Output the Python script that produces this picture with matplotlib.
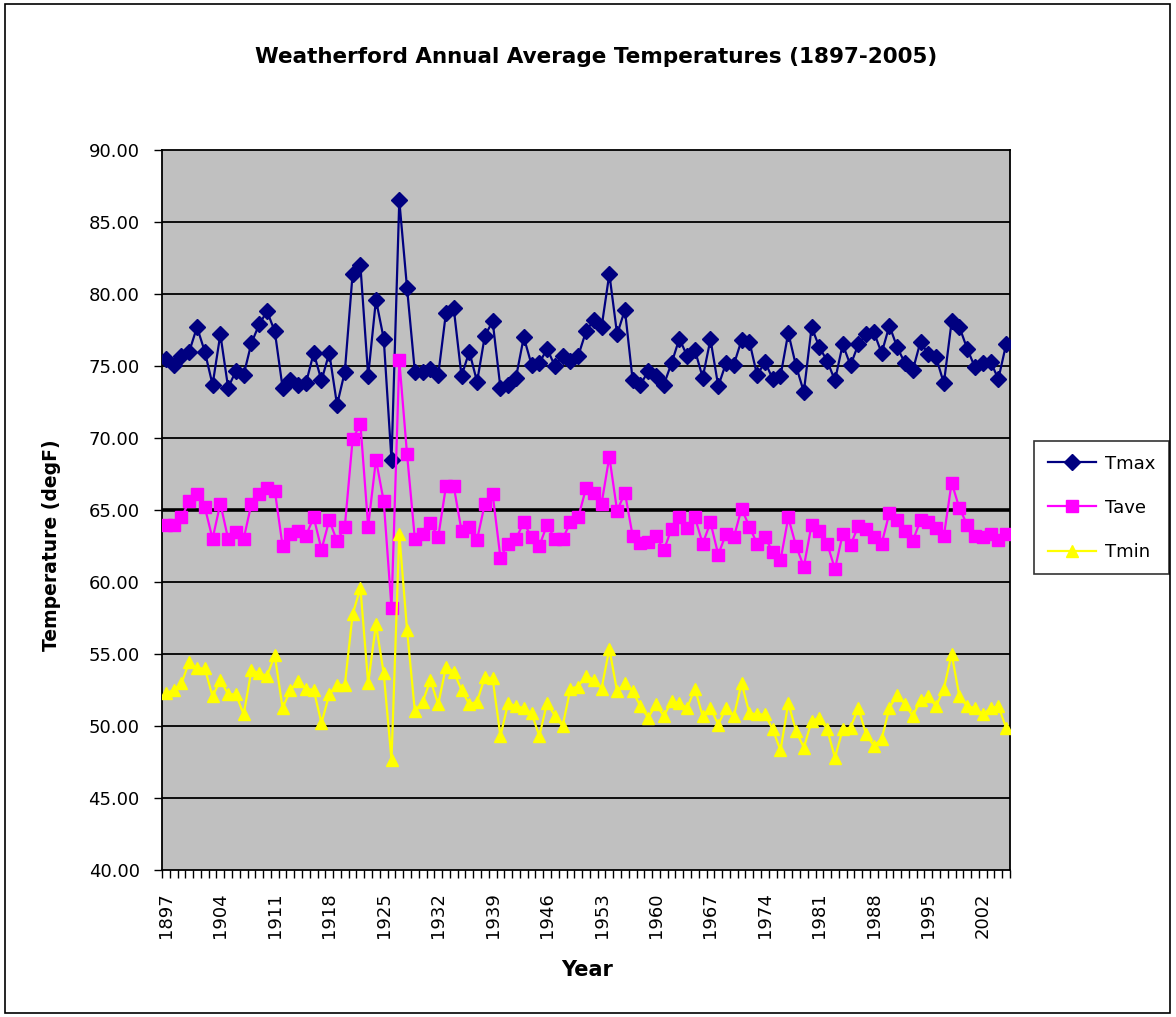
import matplotlib
matplotlib.use("Agg")
import matplotlib.pyplot as plt
from matplotlib.patches import Rectangle

years = list(range(1897, 2006))

tmax = [75.46, 75.1, 75.7, 76.0, 77.7, 76.0, 73.7, 77.2, 73.5, 74.65,
        74.4, 76.6, 77.9, 78.8, 77.4, 73.5, 74.0, 73.7, 73.8, 75.9,
        74.0, 75.9, 72.3, 74.6, 81.4, 82.0, 74.3, 79.6, 76.9, 68.45,
        86.5, 80.4, 74.6, 74.6, 74.8, 74.35, 78.7, 79.0, 74.3, 76.0,
        73.9, 77.1, 78.1, 73.5, 73.7, 74.2, 77.0, 75.1, 75.2, 76.2,
        75.0, 75.7, 75.35, 75.7, 77.4, 78.2, 77.7, 81.4, 77.2, 78.9,
        74.0, 73.7, 74.65, 74.3, 73.7, 75.2, 76.9, 75.7, 76.1, 74.2,
        76.85, 73.6, 75.2, 75.1, 76.8, 76.7, 74.35, 75.3, 74.1, 74.3,
        77.3, 75.0, 73.2, 77.7, 76.3, 75.35, 74.0, 76.5, 75.05, 76.5,
        77.2, 77.35, 75.9, 77.8, 76.3, 75.2, 74.7, 76.7, 75.8, 75.6,
        73.8, 78.1, 77.7, 76.2, 74.9, 75.2, 75.3, 74.1, 76.5]

tave = [63.98, 63.98, 64.5, 65.6, 66.1, 65.2, 63.0, 65.45, 63.0, 63.5,
        63.0, 65.45, 66.1, 66.5, 66.35, 62.5, 63.3, 63.55, 63.2, 64.5,
        62.25, 64.3, 62.84, 63.84, 69.9, 71.0, 63.84, 68.5, 65.6, 58.2,
        75.4, 68.86, 63.0, 63.3, 64.1, 63.1, 66.65, 66.65, 63.57, 63.8,
        62.95, 65.44, 66.1, 61.7, 62.66, 63.0, 64.14, 63.1, 62.5, 63.98,
        63.0, 63.0, 64.14, 64.48, 66.5, 66.2, 65.44, 68.7, 64.94, 66.2,
        63.2, 62.7, 62.8, 63.2, 62.2, 63.7, 64.48, 63.75, 64.48, 62.66,
        64.14, 61.9, 63.34, 63.1, 65.1, 63.84, 62.66, 63.1, 62.1, 61.5,
        64.48, 62.5, 61.06, 63.98, 63.57, 62.66, 60.9, 63.34, 62.54, 63.9,
        63.7, 63.1, 62.66, 64.8, 64.3, 63.57, 62.84, 64.3, 64.14, 63.75,
        63.2, 66.9, 65.12, 63.98, 63.2, 63.1, 63.34, 62.9, 63.34]

tmin = [52.28, 52.5, 52.96, 54.45, 54.0, 54.0, 52.05, 53.2, 52.2, 52.2,
        50.8, 53.9, 53.65, 53.5, 54.9, 51.25, 52.5, 53.1, 52.6, 52.5,
        50.2, 52.2, 52.85, 52.85, 57.75, 59.6, 52.96, 57.07, 53.65, 47.65,
        63.34, 56.66, 51.03, 51.66, 53.2, 51.5, 54.1, 53.76, 52.5, 51.5,
        51.7, 53.4, 53.3, 49.3, 51.6, 51.37, 51.25, 50.9, 49.3, 51.6,
        50.7, 50.0, 52.6, 52.74, 53.5, 53.2, 52.6, 55.36, 52.4, 52.96,
        52.4, 51.37, 50.57, 51.5, 50.7, 51.71, 51.6, 51.25, 52.6, 50.68,
        51.25, 50.1, 51.25, 50.68, 52.96, 50.9, 50.8, 50.8, 49.77, 48.3,
        51.6, 49.66, 48.5, 50.34, 50.57, 49.77, 47.8, 49.77, 49.89, 51.25,
        49.43, 48.63, 49.1, 51.25, 52.17, 51.5, 50.7, 51.8, 52.05, 51.37,
        52.6, 55.0, 52.05, 51.37, 51.25, 50.8, 51.25, 51.37, 49.89]

series_names = ["Tmax", "Tave", "Tmin"]
yticks = [40, 45, 50, 55, 60, 65, 70, 75, 80, 85, 90]
label_step = 7

plt.rcParams['font.family'] = ['DejaVu Sans']

W, H = 1176, 1017
fig = plt.figure(figsize=(W / 100, H / 100), dpi=100)
fig.patch.set_facecolor('white')
fig.patches.append(Rectangle((5 / W, 4 / H), (1170 - 5) / W, (1013 - 4) / H,
                             transform=fig.transFigure, fill=False,
                             edgecolor='black', linewidth=1.2))

ax = fig.add_axes([162 / W, 1 - 870 / H, (1010 - 162) / W, (870 - 150) / H])
ax.set_facecolor('#C0C0C0')

x = list(range(len(years)))
ax.plot(x, tmax, color='#000080', marker='D', markersize=8.3, linewidth=1.6,
        label=series_names[0], zorder=3)
ax.plot(x, tave, color='#FF00FF', marker='s', markersize=8.0, linewidth=1.6,
        label=series_names[1], zorder=3)
ax.plot(x, tmin, color='#FFFF00', marker='^', markersize=8.6, linewidth=1.6,
        label=series_names[2], zorder=3)

ax.set_ylim(40, 90)
ax.set_xlim(-0.5, len(years) - 0.5)
ax.set_yticks(yticks)
ax.set_yticklabels([f"{v:.2f}" for v in yticks], fontsize=13)
for v in yticks[1:-1]:
    ax.axhline(v, color='black', linewidth=2.6 if v == 65 else 1.3, zorder=1)

lab_pos = list(range(0, len(years), label_step))
ax.set_xticks(lab_pos)
ax.set_xticklabels([str(years[i]) for i in lab_pos], rotation=90, fontsize=13)
ax.set_xticks([i - 0.5 for i in range(len(years) + 1)], minor=True)
ax.tick_params(axis='x', which='major', length=0, pad=16)
ax.tick_params(axis='x', which='minor', length=6, width=1, direction='out')
ax.tick_params(axis='y', which='major', length=6, width=1, direction='out', pad=10)
for s in ax.spines.values():
    s.set_linewidth(1.3)
    s.set_color('black')

fig.text(52 / W, 1 - 545 / H, "Temperature (degF)", rotation=90,
         ha='center', va='center', fontsize=13.5, fontweight='bold')
fig.text(587 / W, 1 - 970 / H, "Year", ha='center', va='center',
         fontsize=15, fontweight='bold')
fig.text(596 / W, 1 - 57 / H, "Weatherford Annual Average Temperatures (1897-2005)",
         ha='center', va='center', fontsize=15.5, fontweight='bold')

leg = ax.legend(loc='upper left', bbox_to_anchor=(1034 / W, 1 - 441 / H),
                bbox_transform=fig.transFigure, fontsize=13, frameon=True,
                fancybox=False, edgecolor='black', borderpad=0.75,
                labelspacing=1.45, handlelength=2.7, handletextpad=0.5,
                borderaxespad=0)
leg.get_frame().set_linewidth(1.2)

fig.savefig("out.png", dpi=100, facecolor='white')
